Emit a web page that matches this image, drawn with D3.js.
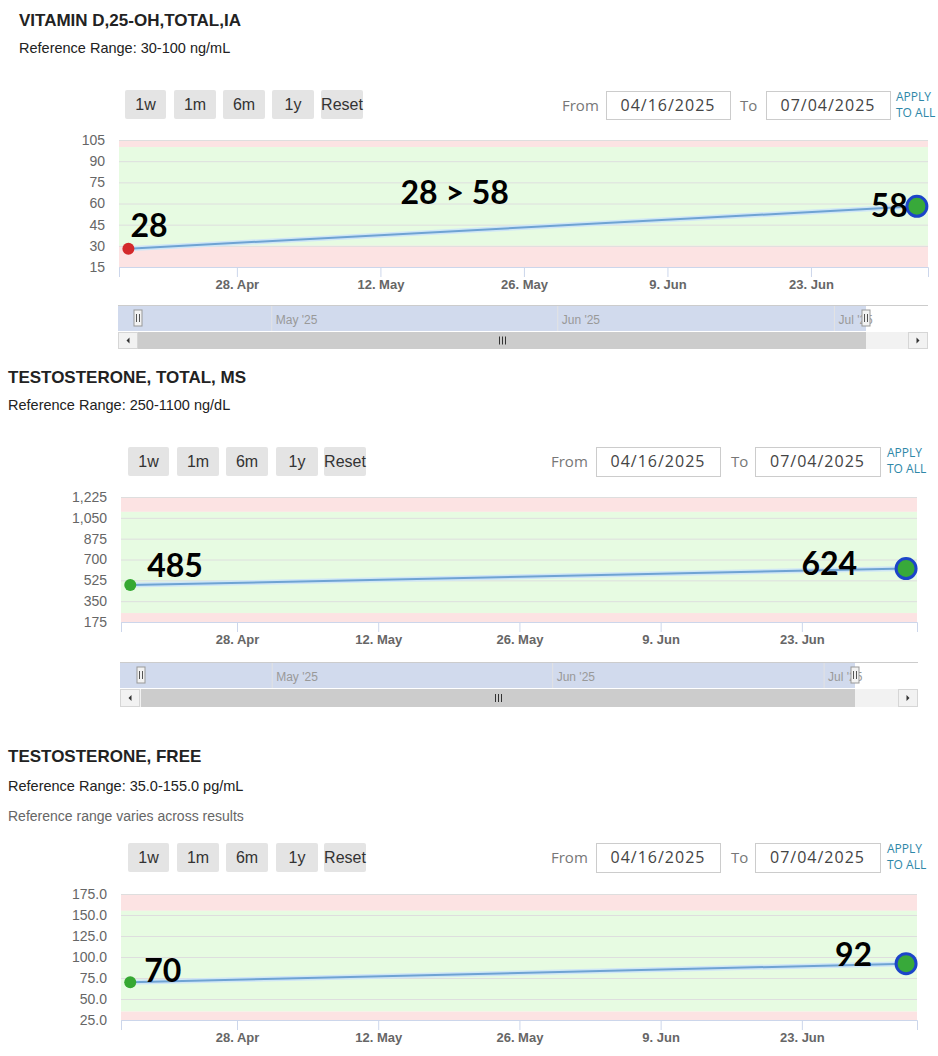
<!DOCTYPE html>
<html>
<head>
<meta charset="utf-8">
<script src="https://cdn.jsdelivr.net/npm/d3@7"></script>
<style>
  html, body { margin: 0; padding: 0; background: #fff; }
  svg { display: block; }
</style>
</head>
<body>
<script>
// ---------------- DATA ----------------
const sampleDates = ["2025-04-17T10:00:00", "2025-07-03T08:00:00"];
const viewRange = ["2025-04-16T12:00:00", "2025-07-04T10:00:00"];

const vitaminDValues = [28, 58];
const testTotalValues = [485, 624];
const testFreeValues = [70, 92];

const vitaminDTicks = [15, 30, 45, 60, 75, 90, 105];
const testTotalTicks = [175, 350, 525, 700, 875, 1050, 1225];
const testFreeTicks = [25, 50, 75, 100, 125, 150, 175];

const vitaminDRef = [30, 100];
const testTotalRef = [250, 1100];
const testFreeRef = [35, 155];

const vitaminDLabels = ["28", "58"];
const testTotalLabels = ["485", "624"];
const testFreeLabels = ["70", "92"];
const vitaminDChange = "28 > 58";

const xTickDates = ["2025-04-28", "2025-05-12", "2025-05-26", "2025-06-09", "2025-06-23"];
const navMonths = ["2025-05-01", "2025-06-01", "2025-07-01"];
const rangeButtons = ["1w", "1m", "6m", "1y", "Reset"];
const fromDate = "04/16/2025";
const toDate = "07/04/2025";

const titles = ["VITAMIN D,25-OH,TOTAL,IA", "TESTOSTERONE, TOTAL, MS", "TESTOSTERONE, FREE"];
const refTexts = ["Reference Range: 30-100 ng/mL", "Reference Range: 250-1100 ng/dL", "Reference Range: 35.0-155.0 pg/mL"];
const noteText = "Reference range varies across results";

// ---------------- DRAWING ----------------
const W = 938, H = 1056;
const parse = d3.isoParse;
const svg = d3.select("body").append("svg").attr("width", W).attr("height", H);

const SANS = "'Liberation Sans', Arial, sans-serif";
const OPEN = "'Open Sans', sans-serif";

const panels = [
  {
    title: titles[0], ref: refTexts[0], note: null,
    values: vitaminDValues, ticks: vitaminDTicks, refRange: vitaminDRef, fmt: d3.format("d"),
    firstColor: "#d3292b", labels: vitaminDLabels, change: vitaminDChange,
    L: {
      tx: 19, titleY: 26, refY: 53, noteY: null,
      btnY: 90, btnX: [125, 174, 223, 272, 321], btnW: [41, 42, 42, 42, 42],
      fromX: 562, box1: [606, 730], toX: 740, box2: [766, 890], applyX: 896, boxY: 91, boxH: 28,
      plot: { x0: 119, x1: 928, y0: 140, y1: 267 }, yLabelX: 105,
      lab: [{ dx: 2, dy: -12, anchor: "start" }, { dx: -9, dy: 11, anchor: "end" }],
      changePos: { fx: 0.415, y: 204 },
      nav: { x0: 118, x1: 928, y0: 305, y1: 331, h0: 138, h1: 866, sb0: 332, sb1: 349 }
    }
  },
  {
    title: titles[1], ref: refTexts[1], note: null,
    values: testTotalValues, ticks: testTotalTicks, refRange: testTotalRef, fmt: d3.format(","),
    firstColor: "#36a832", labels: testTotalLabels, change: null,
    L: {
      tx: 8, titleY: 383, refY: 410, noteY: null,
      btnY: 447, btnX: [128, 177, 226, 276, 324], btnW: [41, 42, 42, 42, 42],
      fromX: 551, box1: [596, 720], toX: 731, box2: [755, 880], applyX: 887, boxY: 447, boxH: 29,
      plot: { x0: 121, x1: 917, y0: 497, y1: 622 }, yLabelX: 107,
      lab: [{ dx: 17, dy: -8, anchor: "start" }, { dx: -49, dy: 6, anchor: "end" }],
      changePos: null,
      nav: { x0: 120, x1: 918, y0: 662, y1: 688, h0: 141, h1: 855, sb0: 689, sb1: 707 }
    }
  },
  {
    title: titles[2], ref: refTexts[2], note: noteText,
    values: testFreeValues, ticks: testFreeTicks, refRange: testFreeRef, fmt: d3.format(".1f"),
    firstColor: "#36a832", labels: testFreeLabels, change: null,
    L: {
      tx: 8, titleY: 762, refY: 791, noteY: 821,
      btnY: 843, btnX: [128, 177, 226, 276, 324], btnW: [41, 42, 42, 42, 42],
      fromX: 551, box1: [596, 720], toX: 731, box2: [755, 880], applyX: 887, boxY: 843, boxH: 29,
      plot: { x0: 121, x1: 917, y0: 894, y1: 1020 }, yLabelX: 107,
      lab: [{ dx: 14, dy: 0, anchor: "start" }, { dx: -34, dy: 2, anchor: "end" }],
      changePos: null,
      nav: null
    }
  }
];

panels.forEach(drawPanel);

function drawPanel(p) {
  const L = p.L;
  const g = svg.append("g");

  // Header texts
  g.append("text").attr("x", L.tx).attr("y", L.titleY)
    .attr("font-family", SANS).attr("font-weight", "bold").attr("font-size", 17)
    .attr("fill", "#222").text(p.title);
  g.append("text").attr("x", L.tx).attr("y", L.refY)
    .attr("font-family", SANS).attr("font-size", 14.5)
    .attr("fill", "#222").text(p.ref);
  if (p.note) {
    g.append("text").attr("x", L.tx).attr("y", L.noteY)
      .attr("font-family", SANS).attr("font-size", 14)
      .attr("fill", "#666").text(p.note);
  }

  // Range buttons
  const btn = g.selectAll("g.btn").data(rangeButtons).join("g").attr("class", "btn");
  btn.append("rect")
    .attr("x", (d, i) => L.btnX[i]).attr("y", L.btnY)
    .attr("width", (d, i) => L.btnW[i]).attr("height", 29)
    .attr("rx", 2).attr("fill", "#e4e4e4");
  btn.append("text")
    .attr("x", (d, i) => L.btnX[i] + L.btnW[i] / 2).attr("y", L.btnY + 20)
    .attr("text-anchor", "middle")
    .attr("font-family", SANS).attr("font-size", 16).attr("fill", "#333")
    .text(d => d);

  // From / To boxes
  const cy = L.boxY + L.boxH / 2 + 5.5;
  g.append("text").attr("x", L.fromX).attr("y", cy)
    .attr("font-family", OPEN).attr("font-size", 15).attr("fill", "#777").text("From");
  g.append("text").attr("x", L.toX).attr("y", cy)
    .attr("font-family", OPEN).attr("font-size", 15).attr("fill", "#777").text("To");
  [[L.box1, fromDate], [L.box2, toDate]].forEach(([b, txt]) => {
    g.append("rect").attr("x", b[0] + 0.5).attr("y", L.boxY + 0.5)
      .attr("width", b[1] - b[0]).attr("height", L.boxH)
      .attr("fill", "#fff").attr("stroke", "#cccccc");
    g.append("text").attr("x", (b[0] + b[1]) / 2).attr("y", cy)
      .attr("text-anchor", "middle")
      .attr("font-family", OPEN).attr("font-size", 16).attr("letter-spacing", 1)
      .attr("fill", "#444").text(txt);
  });
  g.append("text").attr("x", L.applyX).attr("y", L.boxY + 10)
    .attr("font-family", OPEN).attr("font-size", 12).attr("fill", "#2e87a8").text("APPLY");
  g.append("text").attr("x", L.applyX).attr("y", L.boxY + 26)
    .attr("font-family", OPEN).attr("font-size", 12).attr("fill", "#2e87a8").text("TO ALL");

  // Scales
  const P = L.plot;
  const x = d3.scaleTime().domain(viewRange.map(parse)).range([P.x0, P.x1]);
  const y = d3.scaleLinear().domain(d3.extent(p.ticks)).range([P.y1, P.y0]);
  const [lo, hi] = p.refRange;
  const [dMin, dMax] = y.domain();

  // Bands
  g.append("rect").attr("x", P.x0).attr("width", P.x1 - P.x0)
    .attr("y", y(dMax)).attr("height", y(hi) - y(dMax)).attr("fill", "#fce3e3");
  g.append("rect").attr("x", P.x0).attr("width", P.x1 - P.x0)
    .attr("y", y(hi)).attr("height", y(lo) - y(hi)).attr("fill", "#e7fbe2");
  g.append("rect").attr("x", P.x0).attr("width", P.x1 - P.x0)
    .attr("y", y(lo)).attr("height", y(dMin) - y(lo)).attr("fill", "#fce3e3");

  // Grid lines
  const grid = g.append("g").attr("transform", `translate(${P.x0},0)`)
    .call(d3.axisLeft(y).tickValues(p.ticks).tickSize(-(P.x1 - P.x0)).tickFormat(""));
  grid.select(".domain").remove();
  grid.selectAll("line").attr("stroke", "#dedede").attr("stroke-width", 1);

  // Y labels
  const ya = g.append("g").attr("transform", `translate(${L.yLabelX},0)`)
    .call(d3.axisLeft(y).tickValues(p.ticks).tickFormat(p.fmt).tickSize(0).tickPadding(0));
  ya.select(".domain").remove();
  ya.selectAll("text").attr("font-family", SANS).attr("font-size", 14).attr("fill", "#666");

  // X axis
  const xa = g.append("g").attr("transform", `translate(0,${P.y1})`)
    .call(d3.axisBottom(x).tickValues(xTickDates.map(parse))
      .tickFormat(d3.timeFormat("%-d. %b")).tickSize(10).tickPadding(3));
  xa.select(".domain").attr("stroke", "#ccd6eb");
  xa.selectAll(".tick line").attr("stroke", "#ccd6eb");
  xa.selectAll("text").attr("font-family", SANS).attr("font-weight", "bold")
    .attr("font-size", 13).attr("fill", "#666");

  // Series
  const pts = sampleDates.map((d, i) => ({ t: parse(d), v: p.values[i] }));
  const line = d3.line().x(d => x(d.t)).y(d => y(d.v));
  g.append("path").datum(pts).attr("d", line).attr("fill", "none")
    .attr("stroke", "#cfe6f6").attr("stroke-width", 5);
  g.append("path").datum(pts).attr("d", line).attr("fill", "none")
    .attr("stroke", "#6ea3d3").attr("stroke-width", 2);

  // Markers
  g.append("circle").attr("cx", x(pts[0].t)).attr("cy", y(pts[0].v)).attr("r", 6)
    .attr("fill", p.firstColor);
  g.append("circle").attr("cx", x(pts[1].t)).attr("cy", y(pts[1].v)).attr("r", 10)
    .attr("fill", "#38a93a").attr("stroke", "#1c45c9").attr("stroke-width", 3);

  // Annotation labels
  pts.forEach((d, i) => {
    const o = L.lab[i];
    g.append("text").attr("x", x(d.t) + o.dx).attr("y", y(d.v) + o.dy)
      .attr("text-anchor", o.anchor)
      .attr("font-family", "Lato, sans-serif").attr("font-weight", "bold")
      .attr("font-size", 32).attr("fill", "#000").text(p.labels[i]);
  });
  if (p.change) {
    g.append("text").attr("x", P.x0 + (P.x1 - P.x0) * L.changePos.fx).attr("y", L.changePos.y)
      .attr("text-anchor", "middle")
      .attr("font-family", "Lato, sans-serif").attr("font-weight", "bold")
      .attr("font-size", 32).attr("fill", "#000").text(p.change);
  }

  // Navigator
  if (L.nav) drawNav(g, L.nav);
}

function drawNav(g, N) {
  const n = d3.scaleTime().domain(viewRange.map(parse)).range([N.h0, N.h1]);
  const mid = (N.y0 + N.y1) / 2;

  g.append("rect").attr("x", N.x0).attr("y", N.y0).attr("width", N.x1 - N.x0)
    .attr("height", N.y1 - N.y0).attr("fill", "#fff");
  // selected mask
  g.append("rect").attr("x", N.x0).attr("y", N.y0).attr("width", N.h1 - N.x0)
    .attr("height", N.y1 - N.y0).attr("fill", "rgba(102,133,194,0.3)");
  // month lines + labels
  const months = navMonths.map(parse);
  g.selectAll(null).data(months).join("line")
    .attr("x1", d => n(d)).attr("x2", d => n(d)).attr("y1", N.y0).attr("y2", N.y1)
    .attr("stroke", "#e3e3e3");
  g.selectAll(null).data(months).join("text")
    .attr("x", d => n(d) + 4).attr("y", N.y0 + 19)
    .attr("font-family", SANS).attr("font-size", 12).attr("fill", "#999")
    .text(d3.timeFormat("%b '%y"));
  // top outline
  g.append("line").attr("x1", N.x0).attr("x2", N.x1).attr("y1", N.y0 + 0.5).attr("y2", N.y0 + 0.5)
    .attr("stroke", "#cccccc");

  // scrollbar
  g.append("rect").attr("x", N.x0).attr("y", N.sb0).attr("width", N.x1 - N.x0)
    .attr("height", N.sb1 - N.sb0).attr("fill", "#f2f2f2");
  g.append("rect").attr("x", N.h0).attr("y", N.sb0).attr("width", N.h1 - N.h0)
    .attr("height", N.sb1 - N.sb0).attr("fill", "#cccccc");
  const gx = (N.h0 + N.h1) / 2, gy = (N.sb0 + N.sb1) / 2;
  [-3, 0, 3].forEach(dx => {
    g.append("line").attr("x1", gx + dx + 0.5).attr("x2", gx + dx + 0.5)
      .attr("y1", gy - 4).attr("y2", gy + 4).attr("stroke", "#333");
  });
  // arrow buttons
  [[N.x0, -1], [N.x1 - 20, 1]].forEach(([bx, dir]) => {
    g.append("rect").attr("x", bx + 0.5).attr("y", N.sb0 + 0.5).attr("width", 19)
      .attr("height", N.sb1 - N.sb0 - 1).attr("fill", "#f2f2f2").attr("stroke", "#d6d6d6");
    const cx = bx + 10;
    g.append("path")
      .attr("d", dir < 0
        ? `M${cx + 1.5},${gy - 3}L${cx - 1.5},${gy}L${cx + 1.5},${gy + 3}Z`
        : `M${cx - 1.5},${gy - 3}L${cx + 1.5},${gy}L${cx - 1.5},${gy + 3}Z`)
      .attr("fill", "#333");
  });

  // handles
  [N.h0, N.h1].forEach(hx => {
    g.append("rect").attr("x", hx - 4).attr("y", mid - 8).attr("width", 8).attr("height", 16)
      .attr("fill", "#f2f2f2").attr("stroke", "#999");
    [-1.5, 1.5].forEach(dx => {
      g.append("line").attr("x1", hx + dx).attr("x2", hx + dx)
        .attr("y1", mid - 4).attr("y2", mid + 4).attr("stroke", "#555");
    });
  });
}
</script>
</body>
</html>
